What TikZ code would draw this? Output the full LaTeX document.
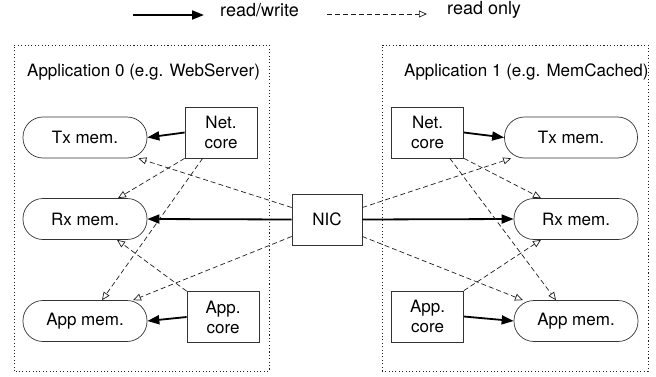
\documentclass[tikz,border=0pt]{standalone}
\usepackage{fontspec}
\setmainfont{TeX Gyre Heros}
\usetikzlibrary{positioning,arrows.meta,calc}
\definecolor{linegrey}{HTML}{1E1E1E}
\definecolor{boxgrey}{HTML}{333333}
\newcommand{\dfont}{\fontsize{17}{20}\selectfont}
\newcommand{\lgfont}{\fontsize{18}{21}\selectfont}
\tikzset{
  mem/.style ={draw=boxgrey, rounded corners=20pt, minimum width=124pt,
               minimum height=41pt, inner sep=0pt, line width=0.7pt},
  core/.style={draw=boxgrey, minimum width=72pt, minimum height=51pt,
               align=center, inner sep=0pt, line width=0.7pt},
  zone/.style={draw=linegrey, dash pattern=on 1.1pt off 2.3pt, line width=0.9pt},
  rw/.style  ={-{Triangle[length=12pt,width=9pt]}, draw=black, line width=1.8pt},
  ro/.style  ={-{Triangle[open,length=8pt,width=7pt]}, draw=linegrey,
               dash pattern=on 5pt off 3pt, line width=0.7pt},
  ztitle/.style={anchor=west, inner sep=0pt},
}

\begin{document}
\begin{tikzpicture}[x=1pt, y=1pt, font=\dfont]
\useasboundingbox (0,0) rectangle (656,376);

% ---------------------------------------------------------------- legend
\coordinate (rwa) at (133,361);
\coordinate (rwb) at (204,361);
\coordinate (roa) at (327,362);
\coordinate (rob) at (427,362);
\draw[rw] (rwa) -- (rwb);
\node[ztitle, font=\lgfont] (rwlbl) at (220,366) {read/write};
\draw[ro] (roa) -- (rob);
\node[ztitle, font=\lgfont] (rolbl) at (447,366) {read only};

% ---------------------------------------------------------------- zones
\draw[zone] (14,5) rectangle (269,331);
\draw[zone] (382,5) rectangle (648,331);
\node[ztitle] (title0) at (27,304) {Application 0 (e.g. WebServer)};
\node[ztitle] (title1) at (404,304) {Application 1 (e.g. MemCached)};

% ---------------------------------------------------------------- nodes
\node[core, minimum width=70pt] (nic) at (327,156.5) {NIC};

\node[mem] (txL)  at (85,238.5) {Tx mem.};
\node[mem] (rxL)  at (85,157)   {Rx mem.};
\node[mem] (appL) at (85,55)    {App mem.};
\node[core] (netL)  at (221,243.5) {Net.\\core};
\node[core] (appcL) at (223,59)    {App.\\core};

\node[mem, minimum width=133pt] (txR) at (571,238.5) {Tx mem.};
\node[mem] (rxR)  at (576,157) {Rx mem.};
\node[mem] (appR) at (576,55)  {App mem.};
\node[core] (netR)  at (427.5,243.5) {Net.\\core};
\node[core] (appcR) at (427.5,59.5)  {App.\\core};

% ---------------------------------------------------------------- read/write
\draw[rw] (netL.west)  -- (txL.east);
\draw[rw] (nic.west)   -- (rxL.east);
\draw[rw] (appcL.west) -- (appL.east);
\draw[rw] (netR.east)  -- (txR.west);
\draw[rw] (nic.east)   -- (rxR.west);
\draw[rw] (appcR.east) -- (appR.west);

% ---------------------------------------------------------------- read only
\draw[ro] ([yshift=12pt]nic.west)        -- ([xshift=-9pt]txL.south east);
\draw[ro] (netL.south west)              -- ([xshift=33pt]rxL.north);
\draw[ro] ([xshift=18pt]netL.south west) -- ([xshift=17pt]appL.north);
\draw[ro] (appcL.north west)             -- ([xshift=32pt]rxL.south);
\draw[ro] ([yshift=-17pt]nic.west)       -- ([xshift=48pt]appL.north);

\draw[ro] ([yshift=12pt]nic.east)         -- ([xshift=7pt]txR.south west);
\draw[ro] (netR.south east)               -- ([xshift=-35pt]rxR.north);
\draw[ro] ([xshift=-14pt]netR.south east) -- ([xshift=-20pt]appR.north);
\draw[ro] (appcR.north east)              -- ([xshift=-35pt]rxR.south);
\draw[ro] ([yshift=-17pt]nic.east)        -- ([xshift=-53pt]appR.north);

\end{tikzpicture}
\end{document}
